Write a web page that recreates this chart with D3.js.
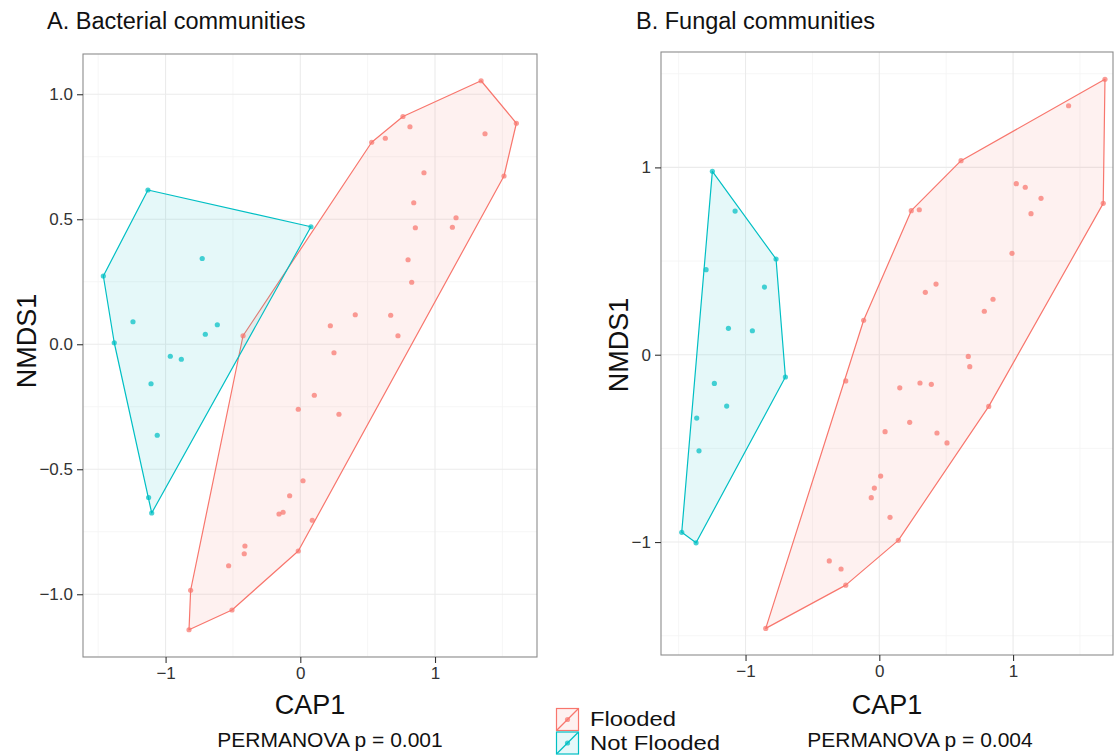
<!DOCTYPE html>
<html>
<head>
<meta charset="utf-8">
<script src="https://cdn.jsdelivr.net/npm/d3@7"></script>
<style>
  html, body { margin: 0; padding: 0; background: #fff; }
  svg { display: block; }
  text { font-family: "Liberation Sans", Arial, Helvetica, sans-serif; }
</style>
</head>
<body>
<svg id="chart" width="1115" height="755"></svg>
<script>
// ---------- DATA ----------
const groups = ["Flooded", "Not Flooded"];
const groupColors = ["#F8766D", "#00BFC4"];

// Panel A: Bacterial communities  [CAP1, NMDS1]
const bactFlooded = [
  [-0.425, 0.034], [0.104, -0.204], [-0.015, -0.260], [0.020, -0.546], [-0.079, -0.606],
  [-0.158, -0.679], [-0.128, -0.672], [0.089, -0.704], [-0.015, -0.827], [-0.411, -0.807],
  [-0.416, -0.838], [-0.532, -0.886], [-0.814, -0.984], [-0.507, -1.063], [-0.826, -1.142],
  [1.342, 1.054], [1.604, 0.884], [1.371, 0.842], [1.512, 0.673], [0.762, 0.911],
  [0.814, 0.870], [0.631, 0.824], [0.530, 0.808], [0.918, 0.686], [0.842, 0.566],
  [1.156, 0.506], [1.129, 0.468], [0.854, 0.466], [0.800, 0.338], [0.827, 0.248],
  [0.408, 0.118], [0.671, 0.116], [0.223, 0.074], [0.725, 0.034], [0.250, -0.034],
  [0.287, -0.280]
];
const bactNotFlooded = [
  [-1.131, 0.617], [0.079, 0.470], [-1.462, 0.273], [-0.728, 0.343], [-1.242, 0.090],
  [-0.616, 0.078], [-0.705, 0.040], [-1.381, 0.006], [-0.965, -0.048], [-0.883, -0.060],
  [-1.108, -0.158], [-1.062, -0.364], [-1.126, -0.613], [-1.103, -0.675]
];

// Panel B: Fungal communities  [CAP1, NMDS1]
const fungFlooded = [
  [-0.117, 0.184], [-0.251, -0.140], [0.153, -0.177], [0.043, -0.411], [0.010, -0.648],
  [-0.037, -0.712], [-0.060, -0.763], [0.080, -0.868], [0.142, -0.991], [-0.374, -1.101],
  [-0.286, -1.144], [-0.251, -1.230], [-0.849, -1.461], [1.687, 1.470], [1.415, 1.329],
  [0.611, 1.036], [0.239, 0.769], [0.299, 0.774], [1.024, 0.913], [1.091, 0.894],
  [1.209, 0.835], [1.134, 0.753], [1.674, 0.808], [0.992, 0.541], [0.424, 0.377],
  [0.344, 0.333], [0.850, 0.296], [0.785, 0.232], [0.665, -0.009], [0.676, -0.064],
  [0.304, -0.151], [0.389, -0.158], [0.818, -0.276], [0.227, -0.361], [0.431, -0.418],
  [0.506, -0.471]
];
const fungNotFlooded = [
  [-1.248, 0.979], [-1.078, 0.767], [-0.772, 0.511], [-1.295, 0.454], [-0.859, 0.361],
  [-1.128, 0.141], [-0.949, 0.128], [-0.702, -0.119], [-1.233, -0.153], [-1.141, -0.274],
  [-1.365, -0.338], [-1.348, -0.513], [-1.477, -0.948], [-1.370, -1.004]
];

// Ticks
const bactXTicks = [-1, 0, 1];
const bactXMinor = [-1.5, -0.5, 0.5, 1.5];
const bactYTicks = [-1, -0.5, 0, 0.5, 1];
const bactYMinor = [-1.25, -0.75, -0.25, 0.25, 0.75];
const fungXTicks = [-1, 0, 1];
const fungXMinor = [-1.5, -0.5, 0.5, 1.5];
const fungYTicks = [-1, 0, 1];
const fungYMinor = [-1.5, -0.5, 0.5, 1.5];

const titles = ["A. Bacterial communities", "B. Fungal communities"];
const permanova = ["PERMANOVA p = 0.001", "PERMANOVA p = 0.004"];

// ---------- DRAW ----------
const svg = d3.select("#chart");
const minus = s => s.replace("-", "\u2212");

const panels = [
  {
    title: titles[0], perm: permanova[0], permX: 330,
    x: d3.scaleLinear().domain([-1.613, 1.757]).range([83, 537]),
    y: d3.scaleLinear().domain([-1.251, 1.161]).range([657, 54]),
    xt: bactXTicks, xm: bactXMinor, yt: bactYTicks, ym: bactYMinor,
    yfmt: d3.format(".1f"), series: [bactFlooded, bactNotFlooded],
    titleX: 47, ylabX: 36, ylabY: 341
  },
  {
    title: titles[1], perm: permanova[1], permX: 920,
    x: d3.scaleLinear().domain([-1.632, 1.747]).range([661, 1113]),
    y: d3.scaleLinear().domain([-1.603, 1.616]).range([655, 52]),
    xt: fungXTicks, xm: fungXMinor, yt: fungYTicks, ym: fungYMinor,
    yfmt: d3.format("d"), series: [fungFlooded, fungNotFlooded],
    titleX: 636, ylabX: 628, ylabY: 345
  }
];

panels.forEach(p => {
  const [x0, x1] = p.x.range();
  const [y0, y1] = p.y.range(); // y0 bottom, y1 top
  const g = svg.append("g");

  g.append("rect").attr("x", x0).attr("y", y1).attr("width", x1 - x0).attr("height", y0 - y1).attr("fill", "#fff");

  // minor grid
  g.selectAll(".xm").data(p.xm).enter().append("line")
    .attr("x1", d => p.x(d)).attr("x2", d => p.x(d)).attr("y1", y1).attr("y2", y0)
    .attr("stroke", "#f4f4f4").attr("stroke-width", 0.8);
  g.selectAll(".ym").data(p.ym).enter().append("line")
    .attr("y1", d => p.y(d)).attr("y2", d => p.y(d)).attr("x1", x0).attr("x2", x1)
    .attr("stroke", "#f4f4f4").attr("stroke-width", 0.8);
  // major grid
  g.selectAll(".xg").data(p.xt).enter().append("line")
    .attr("x1", d => p.x(d)).attr("x2", d => p.x(d)).attr("y1", y1).attr("y2", y0)
    .attr("stroke", "#ebebeb").attr("stroke-width", 1.1);
  g.selectAll(".yg").data(p.yt).enter().append("line")
    .attr("y1", d => p.y(d)).attr("y2", d => p.y(d)).attr("x1", x0).attr("x2", x1)
    .attr("stroke", "#ebebeb").attr("stroke-width", 1.1);

  // hulls
  p.series.forEach((pts, i) => {
    const hull = d3.polygonHull(pts.map(d => [p.x(d[0]), p.y(d[1])]));
    g.append("path")
      .attr("d", "M" + hull.map(d => d.join(",")).join("L") + "Z")
      .attr("fill", groupColors[i]).attr("fill-opacity", 0.1)
      .attr("stroke", groupColors[i]).attr("stroke-width", 1.2)
      .attr("stroke-linejoin", "round");
  });
  // points
  p.series.forEach((pts, i) => {
    g.selectAll(null).data(pts).enter().append("circle")
      .attr("cx", d => p.x(d[0])).attr("cy", d => p.y(d[1])).attr("r", 2.6)
      .attr("fill", groupColors[i]).attr("fill-opacity", 0.72);
  });

  // panel border
  g.append("rect").attr("x", x0).attr("y", y1).attr("width", x1 - x0).attr("height", y0 - y1)
    .attr("fill", "none").attr("stroke", "#8c8c8c").attr("stroke-width", 1.1);

  // axes
  const xAxis = d3.axisBottom(p.x).tickValues(p.xt).tickSize(6).tickPadding(4)
    .tickFormat(d => minus(d3.format("d")(d)));
  const gx = g.append("g").attr("transform", `translate(0,${y0})`).call(xAxis);
  const yAxis = d3.axisLeft(p.y).tickValues(p.yt).tickSize(6).tickPadding(4)
    .tickFormat(d => minus(p.yfmt(d)));
  const gy = g.append("g").attr("transform", `translate(${x0},0)`).call(yAxis);
  [gx, gy].forEach(a => {
    a.select(".domain").remove();
    a.selectAll(".tick line").attr("stroke", "#333").attr("stroke-width", 1.1);
    a.selectAll(".tick text").attr("fill", "#333").style("font-size", "17px")
      .style("font-family", "'Liberation Sans', Arial, sans-serif");
  });

  // titles
  svg.append("text").attr("x", p.titleX).attr("y", 29).attr("font-size", 23.5).attr("fill", "#111").text(p.title);
  svg.append("text").attr("x", (x0 + x1) / 2).attr("y", 714).attr("text-anchor", "middle")
    .attr("font-size", 27).attr("fill", "#111").text("CAP1");
  svg.append("text").attr("transform", `translate(${p.ylabX},${p.ylabY}) rotate(-90)`)
    .attr("text-anchor", "middle").attr("font-size", 27).attr("fill", "#111").text("NMDS1");
  svg.append("text").attr("x", p.permX).attr("y", 747).attr("text-anchor", "middle")
    .attr("font-size", 21).attr("fill", "#111").text(p.perm);
});

// legend
const leg = svg.append("g").attr("transform", "translate(556,708)");
const legTextY = [726, 750];
const legTextW = [86, 130];
groups.forEach((gname, i) => {
  const k = leg.append("g").attr("transform", `translate(0,${i * 23.5})`);
  k.append("rect").attr("x", 0.5).attr("y", 0.5).attr("width", 22).attr("height", 22)
    .attr("fill", groupColors[i]).attr("fill-opacity", 0.1)
    .attr("stroke", groupColors[i]).attr("stroke-width", 1.2);
  k.append("line").attr("x1", 1).attr("y1", 22).attr("x2", 22).attr("y2", 1)
    .attr("stroke", groupColors[i]).attr("stroke-width", 1.2);
  k.append("circle").attr("cx", 11.5).attr("cy", 11.5).attr("r", 2.6)
    .attr("fill", groupColors[i]).attr("fill-opacity", 0.72);
  svg.append("text").attr("x", 590).attr("y", legTextY[i]).attr("font-size", 21)
    .attr("textLength", legTextW[i]).attr("lengthAdjust", "spacingAndGlyphs")
    .attr("fill", "#111").text(gname);
});
</script>
</body>
</html>
